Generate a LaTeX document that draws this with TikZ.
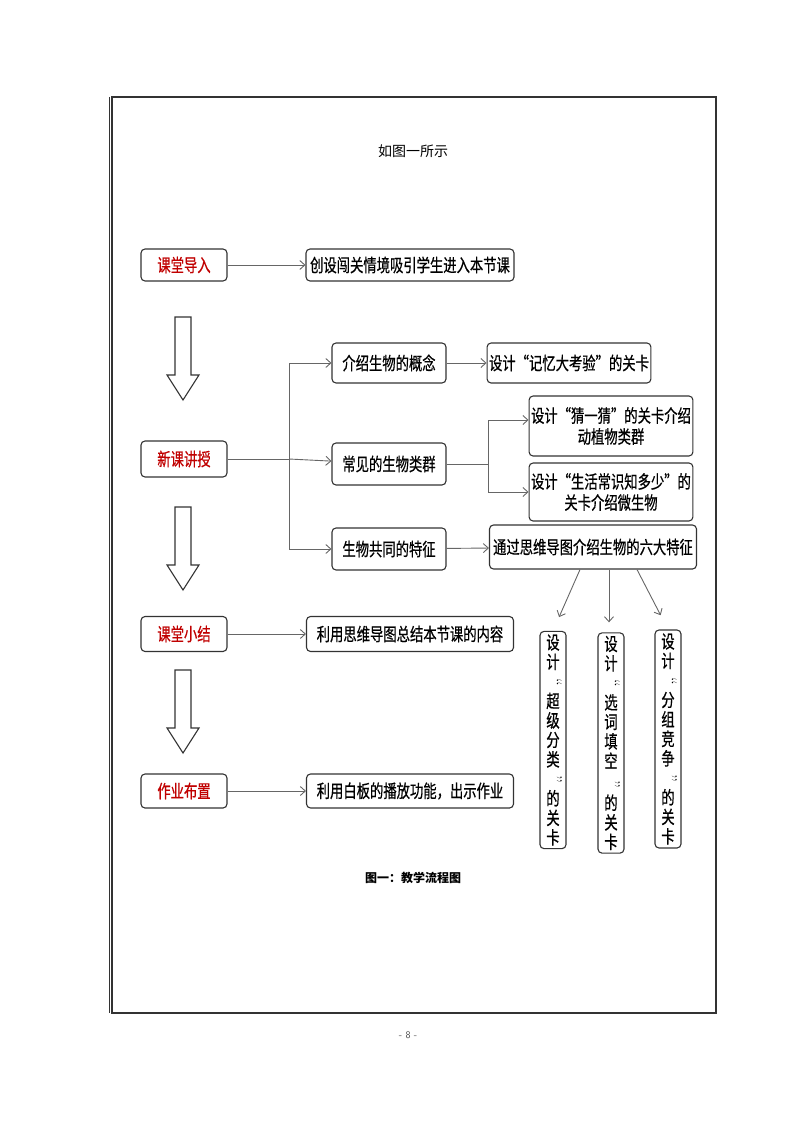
\documentclass[tikz,border=0pt]{standalone}
\usepackage{fontspec}
\usepackage{xcolor}
\usetikzlibrary{arrows.meta}

\newfontfamily\cjk[FakeStretch=0.74,FakeBold=0.6]{Noto Sans CJK SC}
\newfontfamily\cjkplain{Noto Sans CJK SC}
\definecolor{stagered}{HTML}{C00000}
\definecolor{edge}{HTML}{333333}

\tikzset{
  >={Straight Barb[length=5pt,width=9pt]},
  box/.style={draw=edge, line width=1.1pt, rounded corners=4pt, inner sep=2pt, align=center,
    font=\cjk\fontsize{18}{21}\selectfont},
  stage/.style={box, text=stagered, minimum width=86pt},
  vbox/.style={box, minimum width=26pt, inner sep=3pt, font=\cjk\fontsize{18}{19.5}\selectfont},
  link/.style={draw=black!60, line width=0.9pt},
  hollow/.style={draw=edge, line width=1.1pt, fill=white},
}
% quote turned for vertical text
\newcommand{\vq}[1]{\hspace*{5pt}\rotatebox[origin=c]{-90}{\rmfamily\fontsize{18}{18}\selectfont #1}}

\begin{document}
\begin{tikzpicture}[x=1pt,y=-1pt]
  \useasboundingbox (0,0) rectangle (794,1123);

  % page frame
  \draw[edge, line width=1.6pt] (112,97) rectangle (716,1013);
  \draw[edge, line width=0.5pt] (109,97) -- (109,1013);

  \node[font=\cjkplain\fontsize{14}{16}\selectfont] (title) at (413,151) {如图一所示};

  % left column
  \node[stage, minimum height=32pt] (s1) at (184,265) {课堂导入};
  \node[stage, minimum height=36pt] (s2) at (184,459) {新课讲授};
  \node[stage, minimum height=35pt] (s3) at (184,634) {课堂小结};
  \node[stage, minimum height=34pt] (s4) at (184,791) {作业布置};

  \foreach \y in {317,507,670}{
    \draw[hollow] (175,\y) -- (191,\y) -- (191,\y+58) -- (199,\y+58) -- (183,\y+83)
      -- (167,\y+58) -- (175,\y+58) -- cycle;
  }

  \node[box, minimum width=208pt, minimum height=32pt] (t1) at (410,265) {创设闯关情境吸引学生进入本节课};
  \node[box, minimum width=207pt, minimum height=35pt] (t3) at (410,634) {利用思维导图总结本节课的内容};
  \node[box, minimum width=207pt, minimum height=34pt] (t4) at (410,791) {利用白板的播放功能，出示作业};

  \draw[link, ->] (s1) -- (t1);
  \draw[link, ->] (s3) -- (t3);
  \draw[link, ->] (s4) -- (t4);

  % new lesson branches
  \node[box, minimum width=114pt, minimum height=40pt] (c1) at (389,363) {介绍生物的概念};
  \node[box, minimum width=114pt, minimum height=42pt] (c2) at (389,464) {常见的生物类群};
  \node[box, minimum width=114pt, minimum height=42pt] (c3) at (389,549) {生物共同的特征};

  \coordinate (fork) at (289,459);
  \draw[link] (s2) -- (fork);
  \draw[link, ->] (fork) |- (c1);
  \draw[link, ->] (fork) -- (c2);
  \draw[link, ->] (fork) |- (c3);

  \node[box, minimum width=158pt, minimum height=40pt] (d1) at (569,363) {设计“记忆大考验”的关卡};
  \node[box, minimum width=162pt, minimum height=60pt] (e1) at (611,426) {设计“猜一猜”的关卡介绍\\动植物类群};
  \node[box, minimum width=162pt, minimum height=58pt] (e2) at (611,492) {设计“生活常识知多少”的\\关卡介绍微生物};
  \node[box, minimum width=207pt, minimum height=44pt] (d3) at (593,547) {通过思维导图介绍生物的六大特征};

  \draw[link, ->] (c1) -- (d1);
  \coordinate (split) at (488,464);
  \draw[link] (c2) -- (split);
  \draw[link, ->] (split) |- ([yshift=6pt]e1.west);
  \draw[link, ->] (split) |- (e2.west);
  \draw[link, ->] (c3) -- (d3);

  % three games
  \node[vbox, minimum height=215pt] (v1) at (553,740) {设\\计\\\vq{“}\\超\\级\\分\\类\\\vq{”}\\的\\关\\卡};
  \node[vbox, minimum height=220pt] (v2) at (611,743) {设\\计\\\vq{“}\\选\\词\\填\\空\\[3pt]\vq{”}\\的\\关\\卡};
  \node[vbox, minimum height=218pt] (v3) at (668,739) {设\\计\\\vq{“}\\分\\组\\竞\\争\\\vq{”}\\的\\关\\卡};

  \draw[link, ->, shorten >=15pt] ([xshift=-13pt]d3.south) -- (v1.north);
  \draw[link, ->, shorten >=10pt] ([xshift=16pt]d3.south) -- ([xshift=-2pt]v2.north);
  \draw[link, ->, shorten >=16pt] ([xshift=44pt]d3.south) -- (v3.north);

  \node[font=\cjkplain\bfseries\fontsize{12}{14}\selectfont] (caption) at (413,878) {图一：教学流程图};
  \node[font=\sffamily\fontsize{10}{12}\selectfont, text=black!70] (pageno) at (408,1035) {- 8 -};
\end{tikzpicture}
\end{document}
